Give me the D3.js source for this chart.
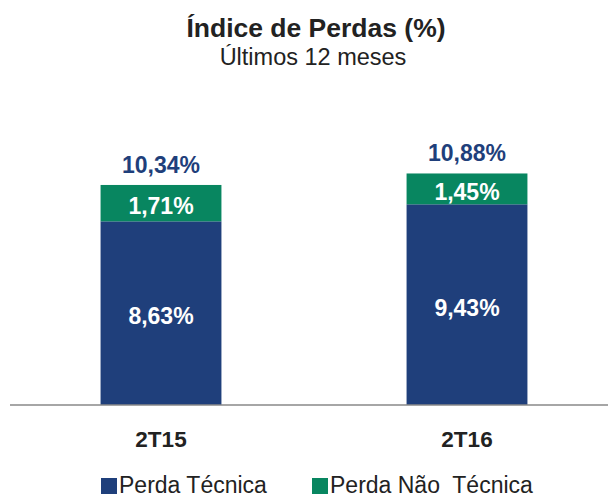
<!DOCTYPE html>
<html>
<head>
<meta charset="utf-8">
<script src="https://cdn.jsdelivr.net/npm/d3@7"></script>
<style>
  body { margin: 0; background: #fff; }
  text { font-family: "Liberation Sans", Arial, sans-serif; }
</style>
</head>
<body>
<div id="chart"></div>
<script>
const width = 608;
const height = 497;

// data
const categories = ["2T15", "2T16"];
const perdaTecnica = [8.63, 9.43];
const perdaNaoTecnica = [1.71, 1.45];
const totals = [10.34, 10.88];
const seriesNames = ["Perda Técnica", "Perda Não  Técnica"];
const colors = ["#1f3f7b", "#088660"];

const fmt = v => d3.format(".2f")(v).replace(".", ",") + "%";

const svg = d3.select("#chart")
  .append("svg")
  .attr("width", width)
  .attr("height", height);

// titles
svg.append("text")
  .attr("x", 316).attr("y", 37)
  .attr("text-anchor", "middle")
  .style("font-size", "26.5px").style("font-weight", "bold").attr("fill", "#222")
  .text("Índice de Perdas (%)");
svg.append("text")
  .attr("x", 313).attr("y", 65)
  .attr("text-anchor", "middle")
  .style("font-size", "23.5px").attr("fill", "#222")
  .text("Últimos 12 meses");

const baseY = 405;
const y = d3.scaleLinear()
  .domain([0, 12])
  .range([baseY, baseY - 12 * 21.28]);

const x = d3.scaleBand()
  .domain(categories)
  .range([8, 620])
  .paddingInner(0.605)
  .paddingOuter(0.3025);

const stackData = categories.map((c, i) => ({cat: c, tec: perdaTecnica[i], nao: perdaNaoTecnica[i], total: totals[i]}));
const stack = d3.stack().keys(["tec", "nao"])(stackData);

const layers = svg.selectAll("g.layer")
  .data(stack)
  .enter()
  .append("g")
    .attr("class", "layer")
    .attr("fill", (d, i) => colors[i]);

layers.selectAll("rect")
  .data(d => d)
  .enter()
  .append("rect")
    .attr("x", d => x(d.data.cat))
    .attr("y", d => y(d[1]))
    .attr("width", x.bandwidth())
    .attr("height", d => y(d[0]) - y(d[1]));

// segment labels
layers.selectAll("text")
  .data(d => d.map(s => ({s: s, key: d.key})))
  .enter()
  .append("text")
    .attr("x", d => x(d.s.data.cat) + x.bandwidth() / 2)
    .attr("y", d => (y(d.s[0]) + y(d.s[1])) / 2 + 11)
    .attr("text-anchor", "middle")
    .attr("fill", "#fff")
    .style("font-size", "23px").style("font-weight", "bold")
    .text(d => fmt(d.s.data[d.key]));

// total labels
svg.selectAll("text.total")
  .data(stackData)
  .enter()
  .append("text")
    .attr("class", "total")
    .attr("x", d => x(d.cat) + x.bandwidth() / 2)
    .attr("y", d => y(d.total) - 12)
    .attr("text-anchor", "middle")
    .attr("fill", "#1f3f7b")
    .style("font-size", "23px").style("font-weight", "bold")
    .text(d => fmt(d.total));

// x axis
const xAxis = d3.axisBottom(x).tickSize(0).tickPadding(26);
const gx = svg.append("g")
  .attr("transform", "translate(0," + baseY + ")")
  .call(xAxis);
gx.select(".domain").attr("d", "M10,0H608").attr("stroke", "#888").attr("stroke-width", 1.5);
gx.selectAll("text")
  .style("font-size", "22.5px").style("font-weight", "bold")
  .attr("fill", "#222")
  .style("font-family", "'Liberation Sans', Arial, sans-serif");

// legend
const legendX = [101, 312];
const legend = svg.selectAll("g.legend")
  .data(seriesNames)
  .enter()
  .append("g")
    .attr("class", "legend")
    .attr("transform", (d, i) => "translate(" + legendX[i] + ",478)");
legend.append("rect")
  .attr("width", 16).attr("height", 16)
  .attr("fill", (d, i) => colors[i]);
legend.append("text")
  .attr("x", 18).attr("y", 15)
  .style("font-size", "23px").attr("fill", "#222")
  .style("white-space", "pre")
  .text(d => d);
</script>
</body>
</html>
